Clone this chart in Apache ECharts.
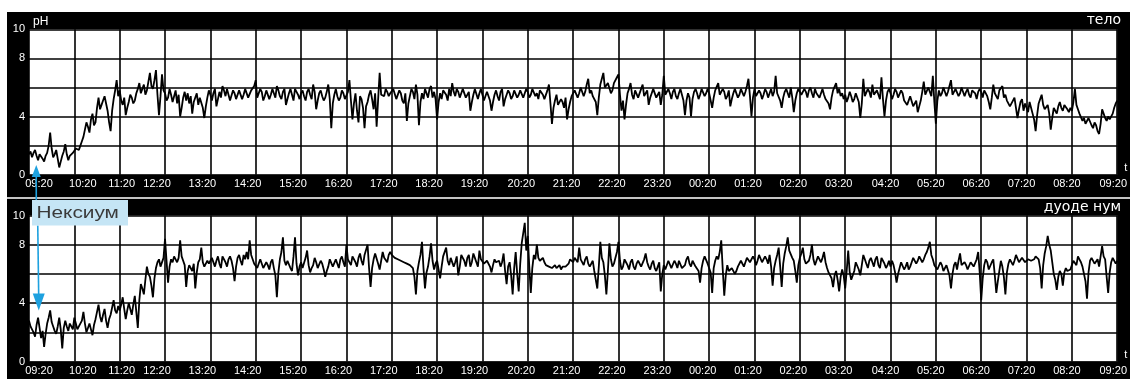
<!DOCTYPE html>
<html>
<head>
<meta charset="utf-8">
<script src="https://cdn.jsdelivr.net/npm/echarts@6/dist/echarts.min.js"></script>
<style>
  html, body { margin: 0; padding: 0; background: #fff; }
  #chart { width: 1130px; height: 379px; }
</style>
</head>
<body>
<div id="chart"></div>
<script>
// 24-hour pH monitoring, one reading every 2 minutes from 09:20
const STEP_MIN = 2;

const timeLabels = [
  '09:20', '10:20', '11:20', '12:20', '13:20', '14:20', '15:20', '16:20',
  '17:20', '18:20', '19:20', '20:20', '21:20', '22:20', '23:20', '00:20',
  '01:20', '02:20', '03:20', '04:20', '05:20', '06:20', '07:20', '08:20', '09:20'
];

// pH tick labels for 0, 2, 4, 6, 8, 10 (2 and 6 are left blank)
const pHTickLabels = ['0', '', '4', '', '8', '10'];

const panelNames = ['тело', 'дуоде нум'];
const doseLabel = 'Нексиум';
const doseHour = 0.16;

// stomach body channel, one row per hour
const bodyPH = [
  1.4,1.6,1.2,1.5,1.7,1.3,1.0,1.4,1.3,1.1,0.9,1.3,1.5,2.0,2.9,1.8,1.2,1.4,1.7,1.1,0.5,0.9,1.3,1.6,2.1,1.4,1.0,1.3,1.2,1.5,
  1.6,1.8,1.9,1.7,2.0,2.3,2.6,3.1,3.6,3.3,2.9,3.8,4.2,3.4,3.6,4.6,5.3,4.5,4.8,5.1,5.4,4.9,4.4,3.6,3.0,4.4,5.2,5.8,6.5,5.4,
  5.8,5.1,4.8,5.3,4.1,4.6,5.0,5.5,5.3,4.9,5.1,5.6,5.9,6.3,5.6,5.9,6.2,5.5,5.8,6.4,7.0,6.1,5.9,6.5,7.2,5.5,4.1,5.4,6.9,5.8,
  5.6,5.1,5.3,5.9,5.5,5.0,5.4,5.8,4.9,5.5,4.0,4.6,5.3,5.7,5.1,5.6,4.9,5.4,4.2,5.0,5.0,5.6,4.8,5.3,5.2,4.6,3.9,4.7,5.3,5.8,
  5.5,5.1,5.6,5.9,4.7,5.2,5.7,5.3,6.1,5.8,5.4,5.9,5.5,5.1,5.2,5.8,5.6,5.2,5.3,5.8,5.7,5.2,5.5,5.9,5.9,5.3,5.4,5.8,5.7,6.1,
  6.5,5.3,5.6,5.9,5.7,5.1,5.4,5.8,5.8,5.2,5.5,5.9,5.6,5.3,6.1,5.8,5.4,5.2,5.7,5.9,4.8,5.2,5.6,5.9,5.5,5.1,5.9,5.7,5.5,5.2,
  5.6,5.8,5.4,5.1,5.7,5.9,5.5,5.2,6.2,5.7,4.5,5.1,5.6,5.8,5.4,5.1,5.3,5.7,6.2,5.2,3.2,4.9,5.5,5.9,5.4,5.1,5.3,5.8,5.6,5.2,
  5.3,5.7,6.5,5.1,3.8,4.9,5.6,4.4,3.6,5.4,5.2,4.6,3.2,4.7,5.0,5.5,5.8,5.2,4.5,5.6,3.3,5.2,7.0,5.5,5.6,5.4,5.9,5.7,5.4,5.6,
  5.5,5.9,5.8,5.2,5.2,5.8,5.6,5.1,4.9,5.6,3.7,4.9,5.4,5.9,5.7,5.2,6.2,5.5,3.4,5.0,5.6,5.2,5.9,5.8,5.3,5.9,6.1,5.3,5.7,5.2,
  3.8,5.0,5.6,5.2,5.8,5.9,5.5,5.1,5.9,5.4,6.3,5.7,5.4,5.9,5.7,5.3,5.6,5.9,5.8,5.3,5.3,5.7,4.4,5.0,5.5,5.9,5.9,5.2,5.6,5.9,
  5.5,5.1,5.2,5.7,5.6,5.1,4.4,5.0,5.5,5.8,5.4,5.1,5.7,5.9,4.7,5.2,5.5,5.8,5.6,5.2,5.4,5.8,5.7,5.3,5.5,5.8,5.8,5.3,5.6,5.9,
  5.7,5.3,5.5,5.9,5.9,5.4,5.6,5.2,5.8,5.9,5.5,5.2,5.3,5.8,6.2,4.9,3.5,4.6,5.1,5.5,4.8,4.9,5.2,5.0,4.6,5.3,3.8,4.5,5.0,5.4,
  5.3,5.8,5.9,5.3,5.6,6.0,6.0,5.4,5.7,6.2,6.6,5.6,5.8,5.4,5.5,5.0,4.1,5.3,6.2,6.6,7.0,6.0,5.9,6.3,6.3,5.6,5.8,6.3,6.4,6.7,
  6.9,5.5,4.4,5.1,3.8,4.8,5.6,5.9,6.3,5.5,5.2,5.8,5.7,5.3,5.4,5.9,6.2,5.4,5.5,5.8,4.8,5.3,5.6,5.9,5.8,5.3,5.5,5.7,4.8,5.5,
  6.8,5.5,5.5,5.9,5.6,5.2,5.7,5.9,5.4,5.2,5.6,5.9,5.5,5.1,4.1,5.1,5.6,5.3,4.0,5.2,5.7,5.9,5.6,5.2,5.5,5.9,5.8,5.4,5.6,5.9,
  5.6,5.1,4.6,5.3,5.8,5.9,6.3,5.5,5.5,5.9,5.7,5.2,5.4,5.8,4.7,5.2,5.6,5.9,5.8,5.3,5.5,5.9,5.9,5.4,5.7,6.1,6.6,5.4,4.0,5.3,
  5.9,5.4,5.4,5.8,5.6,5.2,5.5,5.9,5.7,5.3,5.6,5.9,5.4,5.7,6.8,5.6,5.5,5.1,4.6,5.3,5.7,5.9,5.6,5.3,6.0,5.3,4.3,5.1,5.6,5.9,
  6.0,5.5,5.6,5.9,5.7,5.3,5.8,6.0,5.6,5.3,5.9,5.6,5.7,5.3,5.6,5.9,5.5,5.2,5.3,4.9,4.5,5.3,5.8,5.9,6.3,5.6,5.9,5.4,5.6,5.2,
  5.5,5.0,5.3,5.7,5.4,5.0,5.2,5.6,5.6,5.0,3.9,4.9,6.6,5.4,5.5,5.9,5.7,5.3,6.2,5.5,5.4,5.8,5.5,5.2,6.7,5.2,4.0,5.1,5.7,5.9,
  5.6,5.2,5.5,5.9,5.7,5.3,5.4,5.8,5.6,5.1,5.2,4.8,4.9,5.4,5.3,4.7,4.6,5.1,4.3,4.7,5.1,5.7,6.4,5.5,5.5,6.0,6.0,5.4,6.8,5.0,
  3.5,5.1,5.8,5.4,5.6,6.0,5.9,5.4,5.7,6.1,6.5,5.5,5.5,5.9,5.8,5.4,5.6,6.0,5.9,5.4,5.7,5.9,5.5,5.3,5.8,5.9,5.6,5.2,5.7,5.9,
  5.7,5.3,5.8,5.9,5.4,5.0,4.5,5.3,6.2,5.6,5.6,5.2,5.8,5.9,6.1,5.3,5.5,5.1,5.2,4.7,4.6,5.1,5.3,4.6,3.9,4.5,5.0,5.2,4.4,4.9,
  4.6,4.3,5.0,4.6,4.2,3.8,3.0,4.1,4.9,5.2,5.5,4.8,4.5,4.4,4.8,4.2,3.1,3.9,4.6,4.4,4.2,4.7,5.0,4.6,4.4,4.8,4.7,4.5,4.3,4.6,
  4.4,5.0,5.9,4.8,4.5,4.2,4.1,3.7,3.9,3.5,3.6,3.9,3.8,3.4,3.2,3.6,3.4,3.0,2.8,3.5,4.5,4.2,3.9,3.7,4.0,3.8,3.7,4.2,4.6,4.9,
  5.1
];

// duodenum channel, one row per hour
const duodenumPH = [
  2.8,2.4,2.2,2.0,1.7,2.5,3.0,2.3,1.6,2.1,1.0,1.9,2.6,3.0,3.5,2.7,2.4,2.1,1.9,2.4,3.0,2.2,0.9,2.3,2.8,2.4,2.1,2.6,2.4,2.2,
  3.0,2.6,2.2,2.4,2.5,2.8,3.4,2.6,2.0,2.3,2.6,2.2,1.8,2.5,2.9,3.4,3.9,3.1,2.7,3.2,3.6,2.8,2.3,2.9,3.2,3.7,4.2,3.5,3.3,3.8,
  3.5,3.9,4.4,3.6,2.9,3.5,4.0,3.6,3.2,3.9,4.5,3.4,2.3,4.2,5.3,5.0,4.6,5.6,6.5,6.0,5.8,5.2,4.4,5.7,6.4,6.8,7.0,6.5,6.6,7.1,
  8.4,6.9,5.4,6.5,7.0,6.8,7.2,7.0,6.8,7.1,8.3,7.2,6.9,6.6,5.1,6.2,6.6,6.4,6.2,6.7,5.0,6.1,6.8,7.0,7.8,6.8,6.5,6.7,6.9,6.7,
  6.6,7.1,7.1,6.5,6.9,7.2,6.7,6.4,7.2,7.3,6.8,6.5,7.0,7.2,6.9,6.4,5.5,6.5,7.1,7.3,6.9,6.6,7.3,7.0,7.5,7.0,8.3,7.3,7.2,6.7,
  6.7,6.4,6.5,7.0,6.9,6.4,6.3,6.8,6.6,6.3,6.8,7.0,6.4,5.9,4.4,6.1,7.0,7.5,8.5,6.9,6.6,6.9,6.9,6.4,6.2,7.2,8.5,6.7,5.9,6.5,
  6.8,6.4,6.5,7.1,7.6,6.6,6.1,6.4,6.6,7.1,6.8,6.4,6.4,6.9,6.7,6.3,5.8,6.2,6.5,7.0,6.9,6.5,6.6,7.0,6.7,6.4,7.0,7.2,6.8,6.5,
  8.0,7.0,7.0,6.6,7.2,7.3,6.8,6.5,7.1,7.4,6.9,6.6,7.3,7.2,8.0,6.4,5.1,6.4,7.0,7.4,7.4,6.7,6.3,6.9,7.5,7.1,7.1,6.8,7.3,7.5,
  7.3,7.2,7.1,7.2,7.0,6.9,6.9,7.0,6.8,6.7,6.7,6.8,6.6,6.5,6.4,5.8,4.6,6.2,6.8,7.3,8.2,6.4,5.0,6.1,6.5,7.2,8.1,6.9,6.3,6.7,
  6.9,6.3,5.7,6.5,7.2,7.3,7.8,6.9,6.6,7.1,7.0,6.5,6.8,7.2,5.9,6.5,7.3,7.1,6.9,6.5,7.1,7.3,6.5,6.8,7.4,7.1,6.8,6.5,7.6,7.0,
  6.9,6.7,6.6,6.9,6.8,6.5,6.1,6.6,7.0,6.8,6.7,6.9,6.5,6.8,7.4,6.2,5.3,6.5,6.8,5.9,4.6,6.4,7.5,6.0,4.8,6.7,8.1,8.8,9.5,7.6,
  8.6,6.5,4.7,6.4,7.3,7.0,8.0,7.1,6.9,7.0,7.1,6.8,6.6,6.5,6.5,6.6,6.4,6.5,6.6,6.4,6.5,6.6,6.3,6.5,6.6,6.5,6.4,6.7,7.0,6.9,
  6.8,7.1,7.2,6.8,7.8,7.0,6.9,6.6,7.0,7.2,6.7,6.5,6.6,6.9,6.2,6.3,5.0,6.5,8.2,7.1,6.8,5.9,4.6,6.2,8.1,7.0,6.5,6.7,7.1,7.5,
  8.2,6.9,6.3,6.5,7.0,6.8,6.6,6.3,6.8,7.0,6.5,6.3,6.7,6.9,6.9,6.5,6.6,7.0,7.4,6.8,6.5,6.3,6.7,6.9,6.4,6.2,6.5,6.8,4.8,6.0,
  6.6,6.3,6.4,6.9,6.8,6.4,6.5,6.9,6.7,6.4,6.9,7.0,6.4,6.3,6.6,7.0,7.2,6.7,6.5,6.9,6.8,6.5,6.6,6.2,5.4,6.4,6.9,7.2,7.3,6.7,
  6.7,6.1,4.7,6.4,6.9,7.2,7.0,7.5,8.3,6.3,4.5,5.9,6.6,6.2,6.1,6.4,6.4,6.0,6.2,6.5,6.6,6.9,6.9,6.5,6.8,7.1,7.1,6.8,6.9,7.2,
  7.0,6.6,6.9,7.3,7.2,6.8,6.8,7.2,7.0,6.7,7.3,6.5,5.2,6.4,6.9,7.3,7.8,6.5,5.1,6.7,7.4,7.9,8.5,7.6,7.6,7.1,6.9,6.2,5.4,6.6,
  7.1,7.4,7.8,7.0,6.7,6.8,6.9,7.3,8.0,7.0,6.6,6.9,7.2,7.0,6.8,7.1,7.5,6.8,6.4,6.1,6.0,5.7,5.1,5.9,6.2,5.6,4.8,5.8,6.3,5.9,
  5.0,6.2,7.6,6.1,5.6,5.9,6.2,6.8,6.8,6.3,5.9,6.6,7.3,7.0,6.7,6.4,6.9,7.1,6.8,6.5,7.0,7.2,6.6,6.4,7.1,6.9,6.7,6.4,6.6,6.9,
  6.5,6.9,6.6,6.1,5.4,6.0,6.4,6.8,6.7,6.3,6.5,6.8,6.3,6.5,6.8,7.1,7.2,6.7,6.9,7.2,7.3,6.8,7.0,7.3,7.5,7.8,8.2,7.3,7.0,6.6,
  6.7,6.3,6.4,6.8,6.6,6.2,6.2,6.6,6.5,5.9,5.0,6.0,6.6,6.8,6.3,6.9,7.4,6.6,6.5,6.8,6.6,6.3,6.4,6.8,6.8,6.5,6.6,7.0,7.5,6.1,
  4.2,5.7,6.6,7.0,6.8,6.3,6.3,6.8,7.0,5.9,4.7,5.5,6.2,6.9,6.5,5.8,4.6,6.1,6.7,7.0,7.0,6.6,6.9,7.3,7.2,6.8,6.8,7.1,7.1,6.8,
  6.9,7.0,7.1,6.9,6.8,7.0,7.2,7.1,7.0,6.4,5.0,6.6,7.4,7.9,8.6,8.0,7.6,6.8,6.0,5.6,4.9,5.8,6.2,6.0,5.2,6.1,6.4,6.2,6.1,6.3,
  6.6,6.9,6.9,6.6,7.2,7.0,6.8,6.5,6.5,5.5,4.3,6.1,6.9,7.1,7.1,6.7,6.7,7.0,6.5,7.2,7.9,7.2,7.0,5.8,4.7,6.1,6.8,7.1,7.2,6.7,
  6.9
];

const FONT = '"Liberation Sans", Arial, sans-serif';
const WIDE_FONT = '"DejaVu Sans", sans-serif';

// pair each reading with its time in hours from the start of the record
function toPoints(values) {
  return values.map((v, i) => [i * STEP_MIN / 60, v]);
}

// hour labels sit a little off their grid lines; nudge them with padding
function labelNudge(k) {
  if (k === 0) return 10;
  if (k === 1) return 8.5;
  if (k === 2) return 2;
  if (k <= 10) return -8;
  if (k <= 18) return -6.5;
  if (k <= 23) return -5;
  return -4;
}
const hourRich = {};
timeLabels.forEach((t, k) => {
  const s = labelNudge(k);
  hourRich['h' + k] = {
    color: '#fff', fontSize: 11, fontFamily: FONT,
    padding: s > 0 ? [0, 0, 0, 2 * s] : [0, -2 * s, 0, 0]
  };
});

const grids = [
  { left: 29, top: 29.3, width: 1090, height: 145.4 },
  { left: 29, top: 215.5, width: 1090, height: 146 }
];

function xAxisFor(gridIndex) {
  return {
    type: 'value', gridIndex, min: 0, max: 24, interval: 1,
    axisLine: { show: false }, axisTick: { show: false },
    splitLine: { show: true, lineStyle: { color: '#000', width: 1.6 } },
    axisLabel: {
      margin: 4,
      formatter: (v) => {
        const k = Math.round(v);
        return '{h' + k + '|' + timeLabels[k] + '}';
      },
      rich: hourRich
    },
    name: 't', nameLocation: 'end', nameGap: 7,
    nameTextStyle: { color: '#fff', fontSize: 11, fontFamily: FONT, verticalAlign: 'bottom', padding: [0, 0, 1, 0] }
  };
}

function yAxisFor(gridIndex) {
  const ax = {
    type: 'value', gridIndex, min: 0, max: 10, interval: 2,
    axisLine: { show: false }, axisTick: { show: false },
    splitLine: { show: true, lineStyle: { color: '#000', width: 1.6 } },
    axisLabel: {
      margin: 4, color: '#fff', fontSize: 11, fontFamily: FONT,
      formatter: (v) => pHTickLabels[Math.round(v / 2)]
    }
  };
  if (gridIndex === 0) {
    ax.name = 'pH';
    ax.nameLocation = 'end';
    ax.nameGap = 2;
    ax.nameTextStyle = { color: '#fff', fontSize: 12, fontFamily: FONT, align: 'left', verticalAlign: 'bottom', padding: [0, 0, 0, 4] };
  }
  return ax;
}

const chart = echarts.init(document.getElementById('chart'), null, { renderer: 'canvas' });

chart.setOption({
  animation: false,
  backgroundColor: '#fff',
  grid: grids.map(g => Object.assign({ show: true, backgroundColor: '#fff', borderWidth: 0 }, g)),
  xAxis: [xAxisFor(0), xAxisFor(1)],
  yAxis: [yAxisFor(0), yAxisFor(1)],
  series: [
    {
      name: panelNames[0], type: 'line', xAxisIndex: 0, yAxisIndex: 0,
      data: toPoints(bodyPH), showSymbol: false, smooth: false,
      lineStyle: { color: '#000', width: 1.8 }, z: 5
    },
    {
      name: panelNames[1], type: 'line', xAxisIndex: 1, yAxisIndex: 1,
      data: toPoints(duodenumPH), showSymbol: false, smooth: false,
      lineStyle: { color: '#000', width: 1.8 }, z: 5
    }
  ]
});

// panel frames, panel names and the dose marker
const topTip = chart.convertToPixel({ gridIndex: 0 }, [doseHour, 0.67]);
const botTip = chart.convertToPixel({ gridIndex: 1 }, [doseHour, 3.5]);
const ARROW = '#1ea1df';
const boxTop = 200, boxBottom = 225.5;

chart.setOption({
  graphic: [
    { type: 'rect', z: -100, shape: { x: 7, y: 12, width: 1123, height: 185 }, style: { fill: '#000' }, silent: true },
    { type: 'rect', z: -100, shape: { x: 7, y: 199, width: 1123, height: 180 }, style: { fill: '#000' }, silent: true },
    { type: 'rect', z: -100, shape: { x: 7, y: 197, width: 1123, height: 2 }, style: { fill: '#c4c4c4' }, silent: true },
    {
      type: 'text', z: 100, x: 1121, y: 20.5,
      style: { text: panelNames[0], fill: '#fff', font: '14px ' + WIDE_FONT, align: 'right', verticalAlign: 'middle' }
    },
    {
      type: 'text', z: 100, x: 1121, y: 207.5,
      style: { text: panelNames[1], fill: '#fff', font: '14px ' + WIDE_FONT, align: 'right', verticalAlign: 'middle' }
    },
    // arrow up into the stomach panel
    {
      type: 'line', z: 100,
      shape: { x1: topTip[0], y1: boxTop, x2: topTip[0], y2: topTip[1] + 8 },
      style: { stroke: ARROW, lineWidth: 1.6 }
    },
    {
      type: 'polygon', z: 100,
      shape: { points: [[topTip[0], topTip[1]], [topTip[0] - 4.5, topTip[1] + 12], [topTip[0] + 4.5, topTip[1] + 12]] },
      style: { fill: ARROW }
    },
    // arrow down into the duodenum panel
    {
      type: 'line', z: 100,
      shape: { x1: botTip[0] + 1.5, y1: boxBottom, x2: botTip[0] + 2.5, y2: botTip[1] - 10 },
      style: { stroke: ARROW, lineWidth: 1.6 }
    },
    {
      type: 'polygon', z: 100,
      shape: { points: [[botTip[0] + 2.5, botTip[1]], [botTip[0] - 3.5, botTip[1] - 17], [botTip[0] + 8.5, botTip[1] - 17]] },
      style: { fill: ARROW }
    },
    {
      type: 'rect', z: 101,
      shape: { x: 32, y: boxTop, width: 96, height: boxBottom - boxTop },
      style: { fill: '#c5e5f5' }
    },
    {
      type: 'text', z: 102, x: 36.5, y: (boxTop + boxBottom) / 2 + 0.5, scaleX: 1.3,
      style: { text: doseLabel, fill: '#3a3a3a', font: '16px ' + FONT, align: 'left', verticalAlign: 'middle' }
    }
  ]
});
</script>
</body>
</html>
